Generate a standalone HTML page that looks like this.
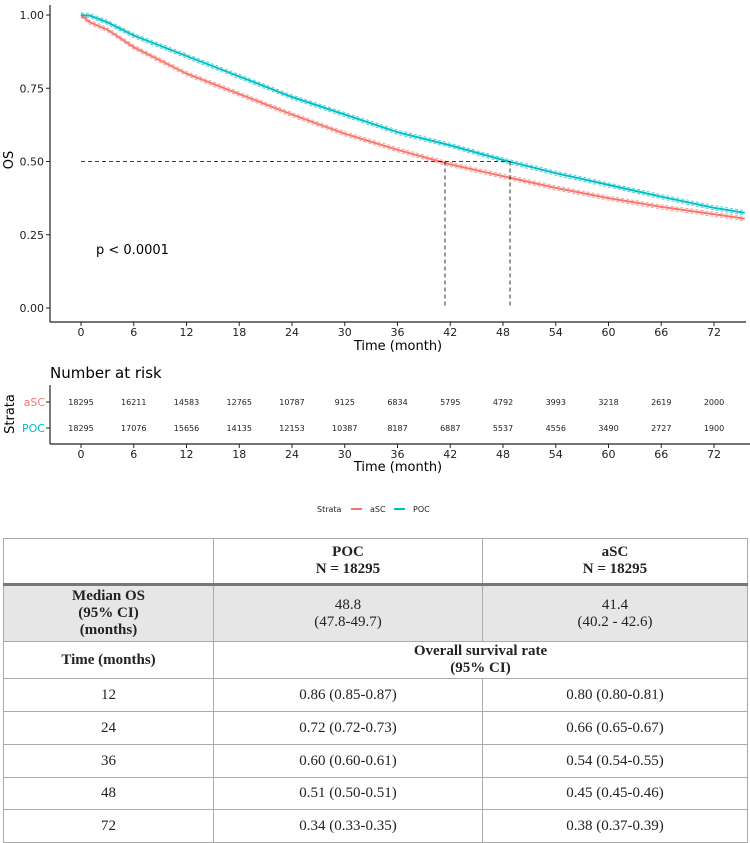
<!DOCTYPE html>
<html><head><meta charset="utf-8"><style>
body{margin:0;background:#fff;width:750px;height:843px;overflow:hidden;font-family:"DejaVu Sans","Liberation Sans",sans-serif}
svg{position:absolute;left:0;top:0}
table{position:absolute;left:3px;top:538px;width:745px;border-collapse:collapse;font-family:"Liberation Serif",serif;font-size:15px;color:#222}
td{border:1px solid #aaa;text-align:center;padding:0;line-height:17px}
.b{font-weight:bold}
</style></head><body>
<svg width="750" height="530" id="c"></svg>
<table>
<tr style="height:46px;border-bottom:3px solid #777"><td style="width:209px"></td><td class="b" style="width:268px">POC<br>N = 18295</td><td class="b">aSC<br>N = 18295</td></tr>
<tr style="height:57px;background:#e6e6e6"><td class="b">Median OS<br>(95% CI)<br>(months)</td><td>48.8<br>(47.8-49.7)</td><td>41.4<br>(40.2 - 42.6)</td></tr>
<tr style="height:37px"><td class="b">Time (months)</td><td colspan="2" class="b">Overall survival rate<br>(95% CI)</td></tr>
<tr style="height:33px"><td>12</td><td>0.86 (0.85-0.87)</td><td>0.80 (0.80-0.81)</td></tr>
<tr style="height:33px"><td>24</td><td>0.72 (0.72-0.73)</td><td>0.66 (0.65-0.67)</td></tr>
<tr style="height:33px"><td>36</td><td>0.60 (0.60-0.61)</td><td>0.54 (0.54-0.55)</td></tr>
<tr style="height:32px"><td>48</td><td>0.51 (0.50-0.51)</td><td>0.45 (0.45-0.46)</td></tr>
<tr style="height:33px"><td>72</td><td>0.34 (0.33-0.35)</td><td>0.38 (0.37-0.39)</td></tr>
</table>
<script>
const months=[0,1,3,6,12,18,24,30,36,42,48,54,60,66,72,75.5];
const pocSurv=[1.0,0.998,0.975,0.93,0.86,0.79,0.72,0.66,0.60,0.555,0.505,0.46,0.42,0.38,0.342,0.325];
const ascSurv=[1.0,0.975,0.95,0.89,0.80,0.73,0.66,0.595,0.54,0.49,0.45,0.41,0.375,0.345,0.32,0.305];
const xTicks=[0,6,12,18,24,30,36,42,48,54,60,66,72];
const yTicks=[0,0.25,0.5,0.75,1.0];
const riskAsc=[18295,16211,14583,12765,10787,9125,6834,5795,4792,3993,3218,2619,2000];
const riskPoc=[18295,17076,15656,14135,12153,10387,8187,6887,5537,4556,3490,2727,1900];
const medians=[41.4,48.8];
const RED='#f8766d',CY='#00bfc4';
const X=m=>81+m*(714-81)/72, Y=v=>308-v*(308-15);
const s=document.getElementById('c'),NS='http://www.w3.org/2000/svg';
function el(t,a,txt){const e=document.createElementNS(NS,t);for(const k in a)e.setAttribute(k,a[k]);if(txt!==undefined)e.textContent=txt;s.appendChild(e);return e;}
function path(arr,off){return arr.map((v,i)=>(i?'L':'M')+X(months[i]).toFixed(1)+','+Y(v+off).toFixed(1)).join('');}
// CI bands
[[ascSurv,RED],[pocSurv,CY]].forEach(([a,c])=>{[-0.007,0.007].forEach(o=>{const p=el('path',{d:path(a,o),fill:'none',stroke:c,'stroke-width':1,'stroke-dasharray':'3,2',opacity:0.7});

});});
const l1=el('path',{d:path(ascSurv,0),fill:'none',stroke:RED,'stroke-width':2});


const l2=el('path',{d:path(pocSurv,0),fill:'none',stroke:CY,'stroke-width':2});


const mh=el('line',{x1:X(0),x2:X(Math.max(...medians)),y1:Y(0.5),y2:Y(0.5),stroke:'#000','stroke-width':0.8,'stroke-dasharray':'4,3'});


medians.forEach(m=>{const v=el('line',{x1:X(m),x2:X(m),y1:Y(0.5),y2:Y(0),stroke:'#000','stroke-width':0.8,'stroke-dasharray':'4,3'});

});
// axes
el('line',{x1:50,x2:50,y1:5,y2:322,stroke:'#222','stroke-width':1.2});
el('line',{x1:50,x2:746,y1:322,y2:322,stroke:'#222','stroke-width':1.2});
yTicks.forEach(v=>{el('line',{x1:46,x2:50,y1:Y(v),y2:Y(v),stroke:'#222'});
const t=el('text',{x:44,y:Y(v)+4,'text-anchor':'end','font-size':11,fill:'#222'},v.toFixed(2));

});
const yl=el('text',{x:13,y:160,'text-anchor':'middle','font-size':13,fill:'#000',transform:'rotate(-90 13 160)'},'OS');


xTicks.forEach(m=>{el('line',{x1:X(m),x2:X(m),y1:322,y2:326,stroke:'#222'});
const t=el('text',{x:X(m),y:336,'text-anchor':'middle','font-size':11,fill:'#222'},m);

});
const xt=el('text',{x:398,y:350,'text-anchor':'middle','font-size':13,fill:'#000'},'Time (month)');


const pv=el('text',{x:96,y:254,'font-size':13,fill:'#000'},'p < 0.0001');


// risk table
const rt=el('text',{x:50,y:378,'font-size':15,fill:'#000'},'Number at risk');


el('line',{x1:50,x2:50,y1:385,y2:444,stroke:'#222','stroke-width':1.2});
el('line',{x1:50,x2:750,y1:444,y2:444,stroke:'#222','stroke-width':1.2});
[[riskAsc,'aSC',RED,402],[riskPoc,'POC',CY,428]].forEach(([arr,n,c,y])=>{
const lb=el('text',{x:45,y:y+4,'text-anchor':'end','font-size':11,fill:c},n);


el('line',{x1:46,x2:50,y1:y,y2:y,stroke:'#222'});
arr.forEach((v,i)=>{const t=el('text',{x:X(xTicks[i]),y:y+3,'text-anchor':'middle','font-size':8,fill:'#222'},v);

});});
const st=el('text',{x:14,y:414,'text-anchor':'middle','font-size':13,fill:'#000',transform:'rotate(-90 14 414)'},'Strata');


xTicks.forEach(m=>{el('line',{x1:X(m),x2:X(m),y1:444,y2:448,stroke:'#222'});
const t=el('text',{x:X(m),y:458,'text-anchor':'middle','font-size':11,fill:'#222'},m);

});
const xt2=el('text',{x:398,y:471,'text-anchor':'middle','font-size':13,fill:'#000'},'Time (month)');


// legend
const lg=el('text',{x:317,y:512,'font-size':8,fill:'#222'},'Strata');


el('line',{x1:351,x2:362,y1:509,y2:509,stroke:RED,'stroke-width':2});
const la=el('text',{x:370,y:512,'font-size':8,fill:'#222'},'aSC');


el('line',{x1:394,x2:405,y1:509,y2:509,stroke:CY,'stroke-width':2});
const lp=el('text',{x:413,y:512,'font-size':8,fill:'#222'},'POC');


</script>
</body></html>
